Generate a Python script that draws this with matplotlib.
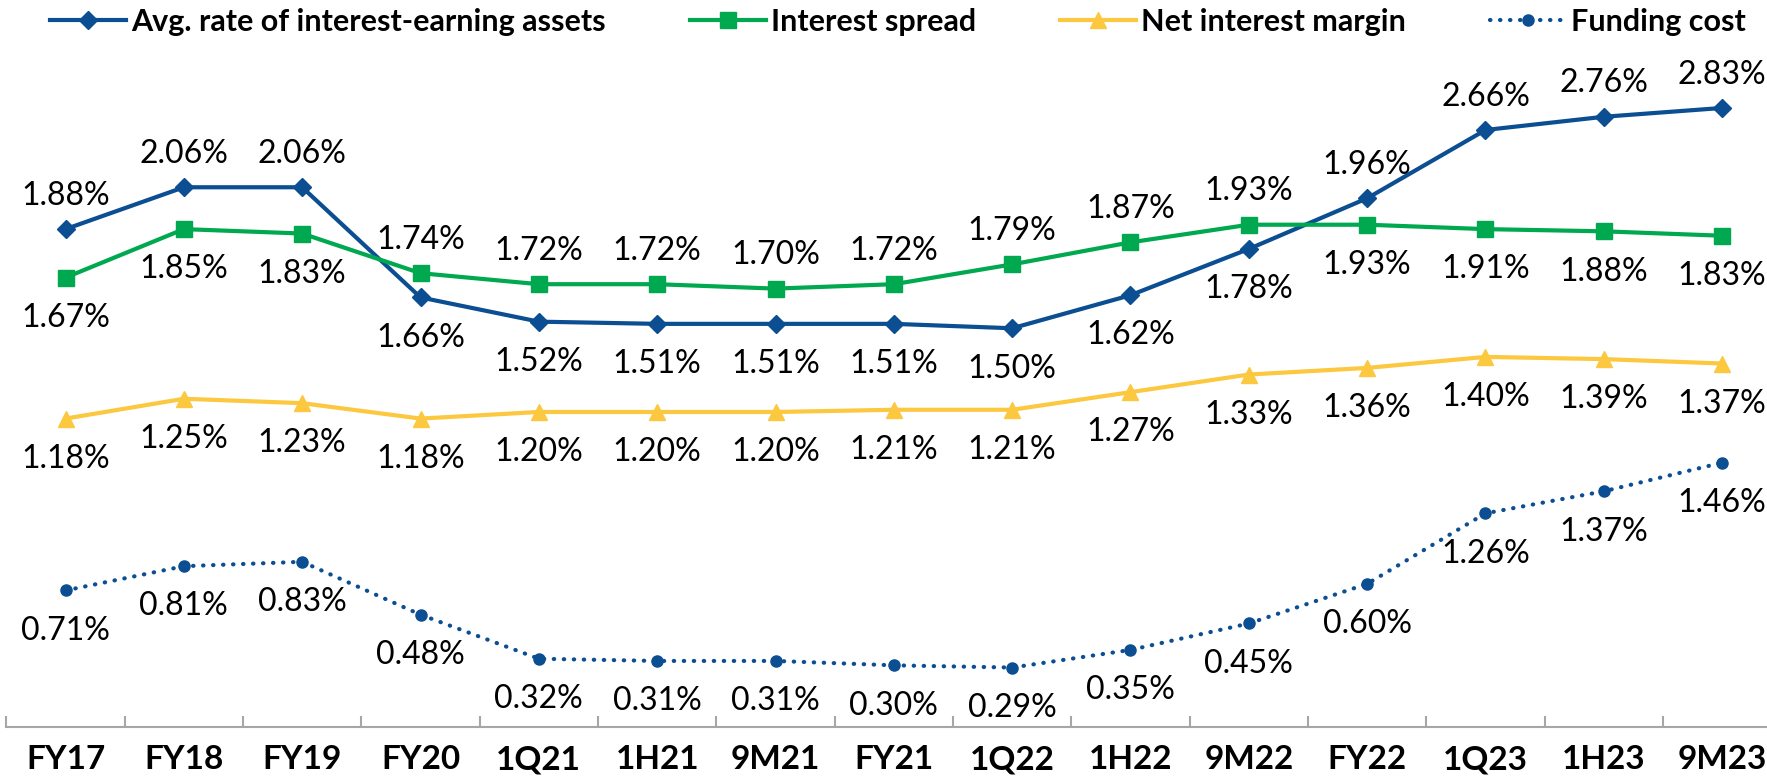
import matplotlib.pyplot as plt
from matplotlib.ticker import FixedLocator

plt.rcParams['font.family'] = ['Lato', 'DejaVu Sans']

# Categories
periods = ['FY17', 'FY18', 'FY19', 'FY20', '1Q21', '1H21', '9M21', 'FY21',
           '1Q22', '1H22', '9M22', 'FY22', '1Q23', '1H23', '9M23']

# Printed data labels (%)
avg_rate_lbl = [1.88, 2.06, 2.06, 1.66, 1.52, 1.51, 1.51, 1.51, 1.50, 1.62, 1.78, 1.96, 2.66, 2.76, 2.83]
spread_lbl = [1.67, 1.85, 1.83, 1.74, 1.72, 1.72, 1.70, 1.72, 1.79, 1.87, 1.93, 1.93, 1.91, 1.88, 1.83]
nim_lbl = [1.18, 1.25, 1.23, 1.18, 1.20, 1.20, 1.20, 1.21, 1.21, 1.27, 1.33, 1.36, 1.40, 1.39, 1.37]
funding_lbl = [0.71, 0.81, 0.83, 0.48, 0.32, 0.31, 0.31, 0.30, 0.29, 0.35, 0.45, 0.60, 1.26, 1.37, 1.46]

# Plotted line levels as drawn in the chart (chart does not use a single linear scale for the labels)
avg_rate = [2.28, 2.47, 2.47, 1.97, 1.86, 1.85, 1.85, 1.85, 1.83, 1.98, 2.19, 2.42, 2.73, 2.79, 2.83]
spread = [2.06, 2.28, 2.26, 2.08, 2.03, 2.03, 2.01, 2.03, 2.12, 2.22, 2.30, 2.30, 2.28, 2.27, 2.25]
nim = [1.42, 1.51, 1.49, 1.42, 1.45, 1.45, 1.45, 1.46, 1.46, 1.54, 1.62, 1.65, 1.70, 1.69, 1.67]
funding = [0.64, 0.75, 0.77, 0.53, 0.33, 0.32, 0.32, 0.30, 0.29, 0.37, 0.49, 0.67, 0.99, 1.09, 1.22]

# label placement: a = above, b = below
avg_side = ['a', 'a', 'a', 'b', 'b', 'b', 'b', 'b', 'b', 'b', 'b', 'a', 'a', 'a', 'a']
spread_side = ['b', 'b', 'b', 'a', 'a', 'a', 'a', 'a', 'a', 'a', 'a', 'b', 'b', 'b', 'b']
nim_side = ['b'] * 15
funding_side = ['b'] * 15

blue = '#0B4E92'
green = '#00A84F'
yellow = '#FBC840'

fig = plt.figure(figsize=(17.67, 7.82), dpi=100)
ax = fig.add_axes([0.0036, 0.0703, 1.0045, 0.9297])

x = list(range(len(periods)))

ax.plot(x, avg_rate, color=blue, lw=3, marker='D', ms=9, label='Avg. rate of interest-earning assets')
ax.plot(x, spread, color=green, lw=3, marker='s', ms=11, label='Interest spread')
ax.plot(x, nim, color=yellow, lw=3, marker='^', ms=12, label='Net interest margin')
ax.plot(x, funding, color=blue, lw=3, ls=(0, (0.1, 2.3)), dash_capstyle='round',
        marker='o', ms=8, label='Funding cost')


def add_labels(vals, lbls, sides):
    for i, (v, t, s) in enumerate(zip(vals, lbls, sides)):
        dy = 24 if s == 'a' else -29
        ax.annotate(f'{t:.2f}%', (i, v), xytext=(0, dy), textcoords='offset points',
                    ha='center', va='center', fontsize=23, color='black')


add_labels(avg_rate, avg_rate_lbl, avg_side)
add_labels(spread, spread_lbl, spread_side)
add_labels(nim, nim_lbl, nim_side)
add_labels(funding, funding_lbl, funding_side)

ax.set_xlim(-0.5, 14.5)
ax.set_ylim(0.02, 3.32)
ax.set_xticks(x)
ax.set_xticklabels(periods, fontsize=24, fontweight='bold')
ax.tick_params(axis='x', which='major', length=0, pad=13)
ax.xaxis.set_minor_locator(FixedLocator([i - 0.5 for i in range(len(periods) + 1)]))
ax.tick_params(axis='x', which='minor', direction='in', length=8, width=1.5, color='#A6A6A6')
ax.set_yticks([])
for side in ['left', 'right', 'top']:
    ax.spines[side].set_visible(False)
ax.spines['bottom'].set_color('#A6A6A6')
ax.spines['bottom'].set_linewidth(1.5)
ax.patch.set_alpha(0)

fig.legend(loc='upper center', bbox_to_anchor=(0.508, 1.025), ncol=4, frameon=False,
           prop={'size': 22, 'weight': 'bold'}, handlelength=2.5, handletextpad=0.15,
           columnspacing=2.75)

fig.savefig('out.png', dpi=100)
